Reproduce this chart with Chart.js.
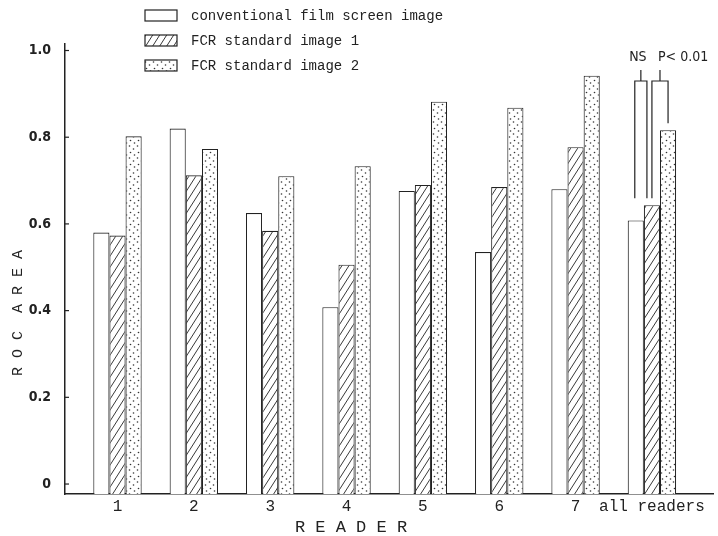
<!DOCTYPE html>
<html>
<head>
<meta charset="utf-8">
<title>ROC area by reader</title>
<script src="https://cdn.jsdelivr.net/npm/chart.js@4.4.1/dist/chart.umd.min.js"></script>
<style>
  html, body { margin: 0; padding: 0; background: #fff; }
  #wrap { width: 718px; height: 536px; }
</style>
</head>
<body>
<div id="wrap"><canvas id="rocChart" width="718" height="536"></canvas></div>
<script>
// groups on the x axis
const readers = ['1', '2', '3', '4', '5', '6', '7', 'all readers'];
const seriesNames = ['conventional film screen image', 'FCR standard image 1', 'FCR standard image 2'];

// ROC area for each reader
const filmScreen = [0.58, 0.82, 0.625, 0.408, 0.676, 0.535, 0.68, 0.608];
const fcrImage1  = [0.573, 0.712, 0.584, 0.506, 0.69, 0.685, 0.777, 0.643];
const fcrImage2  = [0.802, 0.773, 0.71, 0.733, 0.882, 0.868, 0.942, 0.816];

const yTicks = [0, 0.2, 0.4, 0.6, 0.8, 1.0];
const yTickLabels = ['0', '0.2', '0.4', '0.6', '0.8', '1.0'];

const yTitle = 'R O C  A R E A';
const xTitle = 'R E A D E R';
const sigLabels = ['NS', 'P< 0.01'];

const ink = '#222';
const yMin = -0.023;   // axis line sits a little below the 0 tick

const canvas = document.getElementById('rocChart');
const mainCtx = canvas.getContext('2d');

function hatchPattern() {
  const c = document.createElement('canvas');
  c.width = 7; c.height = 11;
  const g = c.getContext('2d');
  g.fillStyle = '#fff';
  g.fillRect(0, 0, 7, 11);
  g.strokeStyle = ink;
  g.lineWidth = 0.9;
  for (const dx of [-7, 0, 7]) {
    g.beginPath();
    g.moveTo(dx, 11);
    g.lineTo(dx + 7, 0);
    g.stroke();
  }
  return mainCtx.createPattern(c, 'repeat');
}

function dotPattern() {
  const c = document.createElement('canvas');
  c.width = 8; c.height = 12;
  const g = c.getContext('2d');
  g.fillStyle = '#fff';
  g.fillRect(0, 0, 8, 12);
  g.fillStyle = '#333';
  for (const [x, y] of [[1.5, 2], [5.5, 5], [2.5, 8.5], [6.5, 11]]) {
    g.beginPath();
    g.arc(x, y, 0.8, 0, Math.PI * 2);
    g.fill();
  }
  return mainCtx.createPattern(c, 'repeat');
}

const fills = ['#ffffff', hatchPattern(), dotPattern()];
const seriesValues = [filmScreen, fcrImage1, fcrImage2];

// legend stacked in three rows above the plot
const legendRows = {
  id: 'legendRows',
  afterDraw(chart) {
    const ctx = chart.ctx;
    ctx.save();
    ctx.font = '14px "Liberation Mono", monospace';
    ctx.textBaseline = 'middle';
    chart.data.datasets.forEach((ds, i) => {
      const y = 15 + i * 25;
      ctx.fillStyle = ds.backgroundColor;
      ctx.fillRect(145, y - 5, 32, 11);
      ctx.strokeStyle = ink;
      ctx.lineWidth = 1.2;
      ctx.strokeRect(145, y - 5, 32, 11);
      ctx.fillStyle = ink;
      ctx.fillText(ds.label, 191, y + 1);
    });
    ctx.restore();
  }
};

// axis titles, inward y ticks, significance brackets
const extras = {
  id: 'extras',
  afterDraw(chart) {
    const ctx = chart.ctx;
    const ys = chart.scales.y;
    ctx.save();
    ctx.strokeStyle = ink;
    ctx.fillStyle = ink;
    ctx.lineWidth = 1.2;

    yTicks.forEach(v => {
      const py = ys.getPixelForValue(v);
      ctx.beginPath();
      ctx.moveTo(ys.right, py);
      ctx.lineTo(ys.right + 4, py);
      ctx.stroke();
    });

    ctx.font = '15px "Liberation Mono", monospace';
    ctx.textAlign = 'center';
    ctx.textBaseline = 'middle';
    ctx.save();
    ctx.translate(18, 313);
    ctx.rotate(-Math.PI / 2);
    ctx.fillText(yTitle, 0, 0);
    ctx.restore();
    ctx.font = '17px "Liberation Mono", monospace';
    ctx.fillText(xTitle, 351, 527);

    const last = readers.length - 1;
    const a = chart.getDatasetMeta(0).data[last];
    const b = chart.getDatasetMeta(1).data[last];
    const c = chart.getDatasetMeta(2).data[last];
    const bar = 81, stemTop = 70, gap = 7;

    const nsL = a.x - 1, nsR = b.x - 5, nsEnd = b.y - gap;
    const pL = b.x, pR = c.x;
    ctx.beginPath();
    ctx.moveTo(nsL, nsEnd); ctx.lineTo(nsL, bar); ctx.lineTo(nsR, bar); ctx.lineTo(nsR, nsEnd);
    ctx.moveTo((nsL + nsR) / 2, bar); ctx.lineTo((nsL + nsR) / 2, stemTop);
    ctx.moveTo(pL, nsEnd); ctx.lineTo(pL, bar); ctx.lineTo(pR, bar); ctx.lineTo(pR, c.y - gap);
    ctx.moveTo((pL + pR) / 2, bar); ctx.lineTo((pL + pR) / 2, stemTop);
    ctx.stroke();

    ctx.font = '14px "Liberation Sans Narrow", "DejaVu Sans Condensed", sans-serif';
    ctx.textAlign = 'center';
    ctx.fillText(sigLabels[0], (nsL + nsR) / 2 - 3, 57);
    ctx.textAlign = 'left';
    ctx.fillText(sigLabels[1], (pL + pR) / 2 - 2, 57);
    ctx.restore();
  }
};

new Chart(canvas, {
  type: 'bar',
  data: {
    datasets: seriesNames.map((name, s) => ({
      label: name,
      data: seriesValues[s].map((v, i) => ({ x: i + 1, y: v })),
      backgroundColor: fills[s],
      borderColor: ink,
      borderWidth: 1.1,
      base: yMin,
      categoryPercentage: 0.634,
      barPercentage: 1.0
    }))
  },
  options: {
    responsive: false,
    animation: false,
    layout: { padding: { top: 44, right: 5, left: 0, bottom: 0 } },
    plugins: {
      legend: { display: false },
      tooltip: { enabled: false }
    },
    scales: {
      x: {
        type: 'linear',
        offset: false,
        min: 0.3125,
        max: 8.8,
        afterBuildTicks: s => { s.ticks = readers.map((r, i) => ({ value: i + 1 })); },
        afterFit: s => { s.height = 42; },
        grid: { display: false, drawTicks: false, offset: false },
        border: { display: true, color: ink, width: 1.5 },
        ticks: {
          autoSkip: false, maxRotation: 0, minRotation: 0, padding: 3, color: ink,
          font: { family: '"Liberation Mono", monospace', size: 16 },
          callback: v => readers[Math.round(v) - 1]
        }
      },
      y: {
        type: 'linear',
        min: yMin,
        max: 1.015,
        afterBuildTicks: s => { s.ticks = yTicks.map(v => ({ value: v })); },
        afterFit: s => { s.width = 65; },
        grid: { display: false, drawTicks: false },
        border: { display: true, color: ink, width: 1.5 },
        ticks: {
          padding: 14, color: ink,
          font: { family: '"Liberation Sans Narrow", "DejaVu Sans Condensed", sans-serif', size: 14, weight: 'bold' },
          callback: v => yTickLabels[yTicks.findIndex(t => Math.abs(t - v) < 1e-9)]
        }
      }
    }
  },
  plugins: [legendRows, extras]
});
</script>
</body>
</html>
